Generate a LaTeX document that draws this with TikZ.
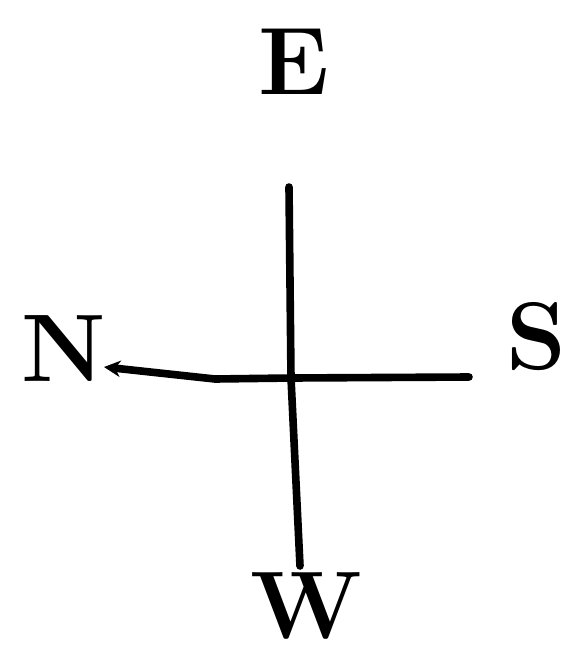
\documentclass[tikz,border=0pt]{standalone}
\usetikzlibrary{arrows.meta}

\tikzset{
  point/.style={font=\fontsize{82}{86}\selectfont\bfseries, inner sep=0pt},
  stroke/.style={line width=6.5pt, line cap=round, line join=round}
}

\begin{document}
\begin{tikzpicture}[x=0.03cm, y=-0.03cm, >={Stealth[length=14pt,width=14pt]}]
    \useasboundingbox (0,0) rectangle (576,659);

    \node[point] (east)  at (294,62)  {E};
    \node[point] (north) at (64,349)  {N};
    \node[point] (south) at (537,337) {S};
    \node[point] (west)  at (306,606) {W};

    \coordinate (top)   at (289,187);
    \coordinate (mid)   at (291,378);
    \coordinate (bot)   at (300,566);
    \coordinate (left)  at (104,367);
    \coordinate (bend)  at (215,379);
    \coordinate (right) at (469,377);

    \draw[stroke] (top) -- (mid) -- (bot);
    \draw[stroke, ->] (right) -- (mid) -- (bend) -- (left);
\end{tikzpicture}
\end{document}
